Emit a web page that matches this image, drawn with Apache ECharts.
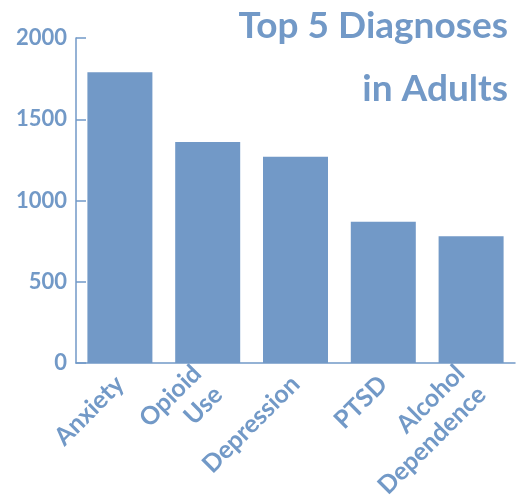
<!DOCTYPE html>
<html>
<head>
<meta charset="utf-8">
<script src="https://cdn.jsdelivr.net/npm/echarts@6/dist/echarts.min.js"></script>
<style>
  html, body { margin: 0; padding: 0; background: #ffffff; }
  #chart { width: 525px; height: 498px; }
</style>
</head>
<body>
<div id="chart"></div>
<script>
// Diagnosis categories and adult case counts
const categories = ['Anxiety', 'Opioid\nUse', 'Depression', 'PTSD', 'Alcohol\nDependence'];
const counts = [1790, 1360, 1270, 870, 780];
const yTicks = { min: 0, max: 2000, interval: 500 };
const titleLines = ['Top 5 Diagnoses', 'in Adults'];

const blue = '#7299c7';
const fontFamily = 'Lato, "Open Sans", sans-serif';

const chart = echarts.init(document.getElementById('chart'), null, { renderer: 'canvas' });
chart.setOption({
  backgroundColor: '#ffffff',
  animation: false,
  graphic: [{
    type: 'text',
    x: 508,
    y: -5,
    style: {
      text: titleLines.join('\n'),
      align: 'right',
      verticalAlign: 'top',
      fill: blue,
      fontFamily: fontFamily,
      fontWeight: 'bold',
      fontSize: 37,
      lineHeight: 63
    }
  }],
  grid: {
    left: 76, right: 10, top: 38, bottom: 135,
    containLabel: false,
    outerBoundsMode: 'none'
  },
  xAxis: {
    type: 'category',
    data: categories,
    axisLine: { lineStyle: { color: blue, width: 1.5 } },
    axisTick: { inside: true, length: 8, lineStyle: { color: blue, width: 1.5 } },
    axisLabel: {
      rotate: 45,
      interval: 0,
      margin: 17,
      color: blue,
      fontFamily: fontFamily,
      fontWeight: 'bold',
      fontSize: 25,
      lineHeight: 30
    }
  },
  yAxis: {
    type: 'value',
    min: yTicks.min,
    max: yTicks.max,
    interval: yTicks.interval,
    splitLine: { show: false },
    axisLine: { show: true, lineStyle: { color: blue, width: 1.5 } },
    axisTick: { show: true, inside: true, length: 10, lineStyle: { color: blue, width: 1.5 } },
    axisLabel: {
      margin: 9,
      color: blue,
      fontFamily: fontFamily,
      fontWeight: 'bold',
      fontSize: 22,
      formatter: (v) => String(v)
    }
  },
  series: [{
    type: 'bar',
    data: counts,
    barWidth: 65,
    itemStyle: { color: blue }
  }]
});
</script>
</body>
</html>
